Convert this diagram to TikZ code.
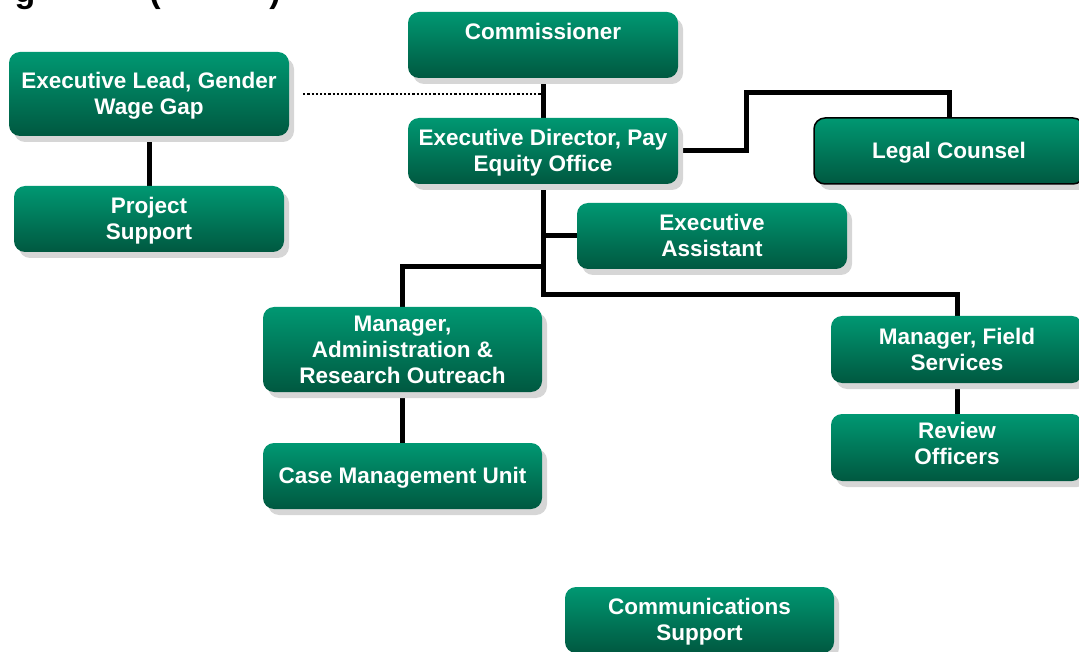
\documentclass[tikz,border=0pt]{standalone}
\usepackage{fontspec}
\setmainfont{Liberation Sans}
\usetikzlibrary{shadows,backgrounds}
\definecolor{boxtop}{RGB}{0,152,114}
\definecolor{boxbot}{RGB}{0,88,64}
\definecolor{shadowgray}{RGB}{214,214,214}
% strut giving every text line the same height and depth
\newcommand{\lnstrut}{\rule[-5pt]{0pt}{25.8pt}}
\begin{document}
\begin{tikzpicture}[x=1pt,y=-1pt,
  orgbox/.style={rounded corners=11pt, top color=boxtop, middle color=boxtop!80!boxbot,
    bottom color=boxbot, text=white, align=center, inner sep=0pt,
    font=\fontsize{22.5}{26}\selectfont\bfseries,
    drop shadow={shadow xshift=5pt, shadow yshift=-6pt, fill=shadowgray, opacity=1}},
  link/.style={line width=5pt, line join=miter},
  dotline/.style={line width=2.2pt, dash pattern=on 2.2pt off 2pt},
  titlefrag/.style={font=\fontsize{34}{40}\selectfont\bfseries, inner sep=0pt, anchor=base}]
\useasboundingbox (0,0) rectangle (1079,652);

% heading, cut at the top edge of the page
\begin{scope}
  \clip (0,0) rectangle (1079,652);
  \node[titlefrag] (hg) at (25,3) {g};
  \node[titlefrag] (hpl) at (155,3) {(};
  \node[titlefrag] (hpr) at (275,3) {)};
\end{scope}

% units
\node[orgbox, minimum width=270pt, minimum height=66pt] (comm) at (543,45) {\lnstrut Commissioner\\\lnstrut};
\node[orgbox, minimum width=280pt, minimum height=84pt] (lead) at (149,94) {\lnstrut Executive Lead, Gender\\\lnstrut Wage Gap};
\node[orgbox, minimum width=270pt, minimum height=66pt] (proj) at (149,219) {\lnstrut Project\\\lnstrut Support};
\node[orgbox, minimum width=270pt, minimum height=66pt] (ed) at (543,151) {\lnstrut Executive Director, Pay\\\lnstrut Equity Office};
\node[orgbox, minimum width=270pt, minimum height=66pt, draw=black, line width=1.5pt] (legal) at (949,151) {\lnstrut Legal Counsel};
\node[orgbox, minimum width=270pt, minimum height=66pt] (ea) at (712,236) {\lnstrut Executive\\\lnstrut Assistant};
\node[orgbox, minimum width=279pt, minimum height=85pt] (mgradm) at (402.5,349.5) {\lnstrut Manager,\\\lnstrut Administration \&\\\lnstrut Research Outreach};
\node[orgbox, minimum width=279pt, minimum height=66pt] (cmu) at (402.5,476) {\lnstrut Case Management Unit};
\node[orgbox, minimum width=252pt, minimum height=67pt] (field) at (957,349.5) {\lnstrut Manager, Field\\\lnstrut Services};
\node[orgbox, minimum width=252pt, minimum height=67pt] (review) at (957,447.5) {\lnstrut Review\\\lnstrut Officers\\[-14pt]\mbox{}};
\node[orgbox, minimum width=269pt, minimum height=66pt] (comms) at (699.5,620) {\lnstrut Communications\\\lnstrut Support};

% reporting lines
\coordinate (lcbend) at (746,93);
\coordinate (split) at (543,295);
\coordinate (lbranch) at (543,267);
\begin{scope}[on background layer]
  \draw[link] (comm.south) -- (ed.north);
  \draw[dotline] ([xshift=14pt]lead.east) -- (comm.south |- lead.east);
  \draw[link] (lead.south) -- (proj.north);
  \draw[link] (ed.east) -| (lcbend) -| (legal.north);
  \draw[link] (ed.south) -- (split) -| (field.north);
  \draw[link] (ed.south |- ea.west) -- (ea.west);
  \draw[link] (lbranch) -| (mgradm.north);
  \draw[link] (mgradm.south) -- (cmu.north);
  \draw[link] (field.south) -- (review.north);
\end{scope}
\end{tikzpicture}
\end{document}
